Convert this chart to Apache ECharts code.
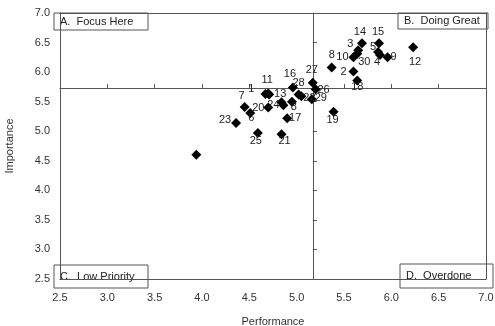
<!DOCTYPE html>
<html>
<head>
<meta charset="utf-8">
<script src="https://cdn.jsdelivr.net/npm/echarts@6/dist/echarts.min.js"></script>
<style>
html,body{margin:0;padding:0;background:#fff;}
#c{width:495px;height:326px;}
</style>
</head>
<body>
<div id="c"></div>
<script>
// ---- data ----
const pointNames  = ["1","11","13","2","18","3","14","15","5","4","9","10","30","12","8","27","16","28","22","26","29","7","6","20","24","","8","17","21","25","23","19",""];
const performance = [4.67,4.70,4.71,5.60,5.64,5.65,5.69,5.87,5.86,5.88,5.96,5.60,5.64,6.23,5.37,5.17,4.96,5.02,5.05,5.20,5.16,4.45,4.51,4.70,4.86,4.84,4.95,4.90,4.84,4.59,4.36,5.39,3.94];
const importance  = [5.63,5.64,5.62,6.01,5.86,6.37,6.49,6.49,6.34,6.29,6.25,6.25,6.31,6.42,6.08,5.82,5.74,5.62,5.59,5.71,5.54,5.41,5.31,5.40,5.44,5.49,5.50,5.22,4.95,4.97,5.14,5.33,4.60];
const xTicks = ["2.5","3.0","3.5","4.0","4.5","5.0","5.5","6.0","6.5","7.0"];
const yTicks = ["2.5","3.0","3.5","4.0","4.5","5.0","5.5","6.0","6.5","7.0"];
const xCross = 5.17;
const yCross = 5.73;
const quadrantLabels = ["A.  Focus Here","B.  Doing Great","C.  Low Priority","D.  Overdone"];

// ---- styling / layout ----
const W = 495, H = 326;
const G = {left:60, right:9, top:13, bottom:47};
const gw = W - G.left - G.right, gh = H - G.top - G.bottom;
const xMin = parseFloat(xTicks[0]), xMax = parseFloat(xTicks[xTicks.length-1]);
const yMin = parseFloat(yTicks[0]), yMax = parseFloat(yTicks[yTicks.length-1]);
const FONT = '"Liberation Sans", Arial, sans-serif';
const LINE = '#555';
const TXT = '#333';
const SYM = 10;

// label centre offset (px) from marker centre, keyed by point index
const labelShift = [
  [-14,-5],[-1,-13],[11,-1],[-10,0],[0,7],[-8,-6],[-2,-11],[-1,-11],[-5,-5],[-3,7],[6,0],[-11,0],[7,8],[2,15],[0,-12],
  [-1,-13],[-3,-14],[0,-12],[8,2],[8,1],[9,-1],[-3,-11],[1,5],[-10,0],[-10,0],[0,0],[2,5],[8,0],[3,7],[-2,8],[-11,-3],[-1,8],[0,0]
];

const data = pointNames.map((n,i)=>{
  const s = labelShift[i];
  return {name:n, value:[performance[i], importance[i]],
    label:{show:n!=="", position:[SYM/2+s[0], SYM/2+s[1]], align:'center', verticalAlign:'middle'}};
});

const fmt = v => v.toFixed(1);

const baseAxis = {
  type:'value', min:xMin, max:xMax, interval:0.5,
  splitLine:{show:false},
  axisLine:{show:true, onZero:false, lineStyle:{color:LINE, width:1}},
  axisTick:{show:false}
};

function boxEl(x,y,w,h,t){
  return {type:'group', z:100, children:[
    {type:'rect', shape:{x:x, y:y, width:w, height:h}, style:{fill:'#fff', stroke:LINE, lineWidth:1}},
    {type:'text', style:{x:x+6, y:y+h/2, text:t, fill:'#222', font:'11px '+FONT, textVerticalAlign:'middle'}}
  ]};
}

const option = {
  animation:false,
  backgroundColor:'#fff',
  grid:{left:G.left, right:G.right, top:G.top, bottom:G.bottom, containLabel:false, outerBoundsMode:'none'},
  xAxis:[
    Object.assign({}, baseAxis, {position:'bottom',
      axisLabel:{show:true, formatter:fmt, color:TXT, fontFamily:FONT, fontSize:11, margin:13},
      name:'Performance', nameLocation:'middle', nameGap:37,
      nameTextStyle:{color:TXT, fontFamily:FONT, fontSize:11}}),
    Object.assign({}, baseAxis, {position:'top', axisLabel:{show:false}}),
    Object.assign({}, baseAxis, {position:'bottom', offset:-(yCross-yMin)/(yMax-yMin)*gh,
      axisLabel:{show:false},
      axisTick:{show:true, inside:true, length:4, lineStyle:{color:LINE}}})
  ],
  yAxis:[
    Object.assign({}, baseAxis, {min:yMin, max:yMax, position:'left',
      axisLabel:{show:true, formatter:fmt, color:TXT, fontFamily:FONT, fontSize:11, margin:10},
      name:'Importance', nameLocation:'middle', nameGap:45, nameRotate:90,
      nameTextStyle:{color:TXT, fontFamily:FONT, fontSize:11}}),
    Object.assign({}, baseAxis, {min:yMin, max:yMax, position:'right', axisLabel:{show:false}}),
    Object.assign({}, baseAxis, {min:yMin, max:yMax, position:'left', offset:-(xCross-xMin)/(xMax-xMin)*gw,
      axisLabel:{show:false},
      axisTick:{show:true, inside:true, length:4, lineStyle:{color:LINE}}})
  ],
  series:[{
    type:'scatter', xAxisIndex:0, yAxisIndex:0,
    symbol:'diamond', symbolSize:SYM,
    itemStyle:{color:'#000', opacity:1},
    label:{formatter:'{b}', color:'#222', fontFamily:FONT, fontSize:11},
    labelLayout:{hideOverlap:false},
    emphasis:{disabled:true},
    data:data, z:5
  }],
  graphic:[
    boxEl(54, 13, 94, 17, quadrantLabels[0]),
    boxEl(398, 13, 90, 16, quadrantLabels[1]),
    boxEl(54, 265, 94, 23, quadrantLabels[2]),
    boxEl(400, 264, 93, 24, quadrantLabels[3])
  ]
};

const chart = echarts.init(document.getElementById('c'), null, {renderer:'canvas'});
chart.setOption(option);
</script>
</body>
</html>
